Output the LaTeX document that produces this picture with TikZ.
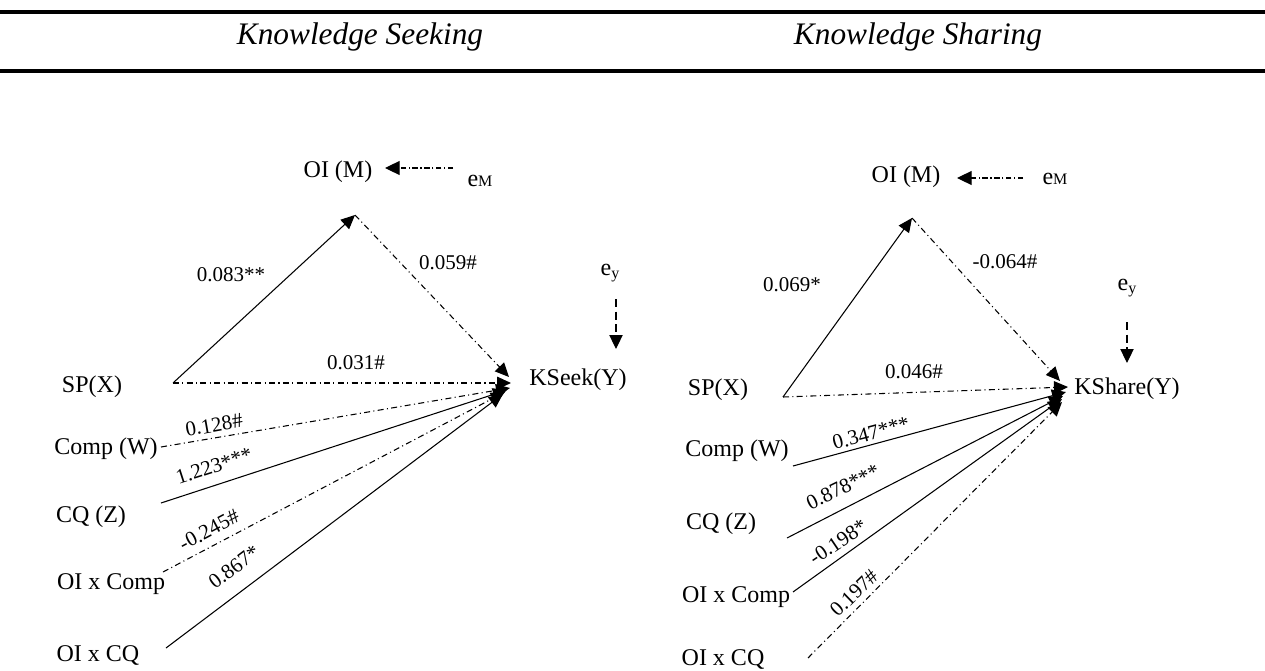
\documentclass[tikz,border=0pt]{standalone}
\usepackage{fontspec}
\setmainfont{Liberation Serif}
\usetikzlibrary{arrows.meta}
\begin{document}
\begin{tikzpicture}[x=0.75pt,y=-0.75pt,
  var/.style={font=\fontsize{18}{20}\selectfont, inner sep=0pt},
  coef/.style={font=\fontsize{15.75}{18}\selectfont, inner sep=0pt},
  ttl/.style={font=\fontsize{23.5}{26}\selectfont\itshape, inner sep=0pt, anchor=base},
  effect/.style={line width=0.8pt, -{Triangle[length=10.5pt,width=9.5pt]}},
  nsig/.style={dash pattern=on 4.5pt off 2.5pt on 0.8pt off 2.5pt},
  errdot/.style={line width=0.8pt, dash pattern=on 4pt off 2pt on 0.8pt off 2pt,
    -{Triangle[length=11pt,width=10.5pt]}},
  errdash/.style={line width=0.8pt, dash pattern=on 6pt off 3.5pt,
    -{Triangle[length=10.5pt,width=10pt]}},
  rule/.style={line width=2.3pt}
]
\useasboundingbox (0,0) rectangle (1265,671);

% table rules and column headings
\draw[rule] (0,12) -- (1265,12);
\draw[rule] (0,71) -- (1265,71);
\node[ttl] (hseek) at (360,45) {Knowledge Seeking};
\node[ttl] (hshare) at (918,45) {Knowledge Sharing};

% ---------- left model: knowledge seeking ----------
\node[var] (LM) at (338,172) {OI (M)};
\node[var] (LeM) at (480,181) {e{\fontsize{12}{12}\selectfont M}};
\node[var] (LY) at (578,380) {KSeek(Y)};
\node[var] (Ley) at (610,273) {e\raisebox{-0.3ex}{\fontsize{12}{12}\selectfont y}};
\node[var] (LX) at (92,387) {SP(X)};
\node[var] (LW) at (106,449) {Comp (W)};
\node[var] (LZ) at (91,517) {CQ (Z)};
\node[var] (LXW) at (111,584) {OI x Comp};
\node[var] (LXZ) at (98,655) {OI x CQ};

\coordinate (LeMo) at (453,168);
\coordinate (LeMt) at (385,168);
\coordinate (Leyo) at (616,299);
\coordinate (Leyt) at (616,349);
\coordinate (LXo) at (173,383);
\coordinate (Lapex) at (355,215);
\coordinate (LWo) at (161,447);
\coordinate (LZo) at (161,503);
\coordinate (LXWo) at (163,572);
\coordinate (LXZo) at (166,648);
\coordinate (LtM) at (509,377);
\coordinate (LtX) at (511,383);
\coordinate (LtW) at (510,388);
\coordinate (LtZ) at (507,390);
\coordinate (LtXW) at (505,392);
\coordinate (LtXZ) at (503,394);

\draw[errdot] (LeMo) -- (LeMt);
\draw[errdash] (Leyo) -- (Leyt);
\draw[effect] (LXo) -- (Lapex);
\draw[effect,nsig] (Lapex) -- (LtM);
\draw[effect,nsig] (LXo) -- (LtX);
\draw[effect,nsig] (LWo) -- (LtW);
\draw[effect] (LZo) -- (LtZ);
\draw[effect,nsig] (LXWo) -- (LtXW);
\draw[effect] (LXZo) -- (LtXZ);

\node[coef] (c083) at (231,275) {0.083**};
\node[coef] (c059) at (448,263) {0.059\#};
\node[coef] (c031) at (356,363) {0.031\#};
\node[coef,rotate=10] (c128) at (214,425) {0.128\#};
\node[coef,rotate=18] (c1223) at (214,466) {1.223***};
\node[coef,rotate=28] (c245) at (209,530) {-0.245\#};
\node[coef,rotate=37] (c867) at (234,567) {0.867*};

% ---------- right model: knowledge sharing ----------
\node[var] (RM) at (906,177) {OI (M)};
\node[var] (ReM) at (1055,179) {e{\fontsize{12}{12}\selectfont M}};
\node[var] (RY) at (1127,389) {KShare(Y)};
\node[var] (Rey) at (1127,288) {e\raisebox{-0.3ex}{\fontsize{12}{12}\selectfont y}};
\node[var] (RX) at (718,390) {SP(X)};
\node[var] (RW) at (737,451) {Comp (W)};
\node[var] (RZ) at (721,524) {CQ (Z)};
\node[var] (RXW) at (736,597) {OI x Comp};
\node[var] (RXZ) at (723,659) {OI x CQ};

\coordinate (ReMo) at (1023,178);
\coordinate (ReMt) at (957,178);
\coordinate (Reyo) at (1127,322);
\coordinate (Reyt) at (1127,363);
\coordinate (RXo) at (783,397);
\coordinate (Rapex) at (912,218);
\coordinate (RWo) at (793,466);
\coordinate (RZo) at (787,538);
\coordinate (RXWo) at (793,592);
\coordinate (RXZo) at (808,658);
\coordinate (RtM) at (1060,381);
\coordinate (RtX) at (1068,387);
\coordinate (RtW) at (1066,392);
\coordinate (RtZ) at (1063,396);
\coordinate (RtXW) at (1062,399);
\coordinate (RtXZ) at (1062,402);

\draw[errdot] (ReMo) -- (ReMt);
\draw[errdash] (Reyo) -- (Reyt);
\draw[effect] (RXo) -- (Rapex);
\draw[effect,nsig] (Rapex) -- (RtM);
\draw[effect,nsig] (RXo) -- (RtX);
\draw[effect] (RWo) -- (RtW);
\draw[effect] (RZo) -- (RtZ);
\draw[effect] (RXWo) -- (RtXW);
\draw[effect,nsig] (RXZo) -- (RtXZ);

\node[coef] (c069) at (792,285) {0.069*};
\node[coef] (c064) at (1005,262) {-0.064\#};
\node[coef] (c046) at (914,372) {0.046\#};
\node[coef,rotate=15] (c347) at (871,433) {0.347***};
\node[coef,rotate=26] (c878) at (843,487) {0.878***};
\node[coef,rotate=34] (c198) at (838,542) {-0.198*};
\node[coef,rotate=44] (c197) at (854,593) {0.197\#};
\end{tikzpicture}
\end{document}
